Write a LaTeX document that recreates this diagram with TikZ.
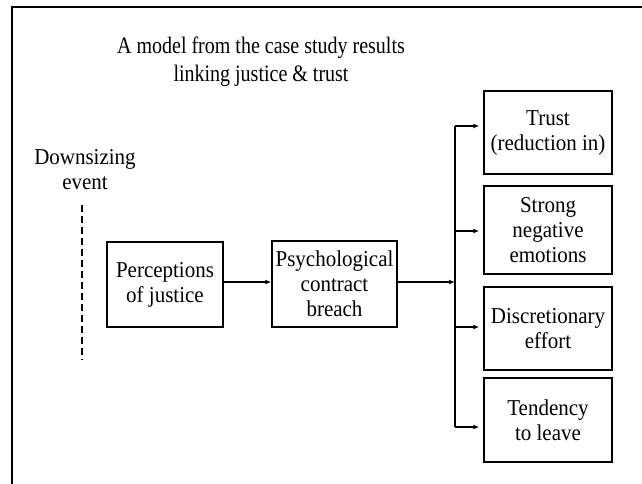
\documentclass[tikz,border=0pt]{standalone}
\usepackage{fontspec}
\usepackage{graphicx}
\setmainfont{Liberation Serif}
\usetikzlibrary{arrows.meta}
\newcommand\vs[1]{\scalebox{1}[1.08]{#1}}
\newcommand\vt[1]{\scalebox{1}[1.18]{#1}}
\begin{document}
\begin{tikzpicture}[x=1pt,y=-1pt,
  box/.style={draw,line width=1.5pt,inner sep=0pt,align=center,font=\fontsize{21}{25}\selectfont},
  conn/.style={line width=1.5pt,-{Latex[length=6pt,width=5pt]}},
  lbl/.style={align=center,font=\fontsize{21}{25}\selectfont}]
\useasboundingbox (0,0) rectangle (642,484);
\fill[white] (0,0) rectangle (642,484);
\draw[line width=2pt] (11.5,484) -- (11.5,7.5) -- (642,7.5);
\node[align=center,font=\fontsize{20}{28}\selectfont] (title) at (261,62) {\vt{A model from the case study results}\\\vt{linking justice \& trust}};
\node[lbl] (down) at (85,170) {\vs{Downsizing}\\\vs{event}};
\coordinate (dtop) at (82,205);
\coordinate (dbot) at (82,360);
\draw[line width=1.7pt,dash pattern=on 7pt off 4pt] (dtop) -- (dbot);
\node[box,minimum width=116pt,minimum height=85pt] (perc) at (165,284.5) {\vs{Perceptions}\\\vs{of justice}};
\node[box,minimum width=125pt,minimum height=86pt] (psych) at (334.5,284) {\vs{Psychological}\\\vs{contract}\\\vs{breach}};
\node[box,minimum width=128pt,minimum height=83pt] (trust) at (548,132.5) {\vs{Trust}\\\vs{(reduction in)}};
\node[box,minimum width=128pt,minimum height=88pt] (neg) at (548,230) {\vs{Strong}\\\vs{negative}\\\vs{emotions}};
\node[box,minimum width=128pt,minimum height=83pt] (disc) at (548,328.5) {\vs{Discretionary}\\\vs{effort}};
\node[box,minimum width=128pt,minimum height=84pt] (tend) at (548,420) {\vs{Tendency}\\\vs{to leave}};
\coordinate (bus) at (455,282);
\coordinate (bt) at (455,126);
\coordinate (bb) at (455,427);
\draw[conn] (perc.east |- 0,282) -- (psych.west |- 0,282);
\draw[conn] (psych.east |- bus) -- (bus);
\draw[line width=1.5pt] (bt) -- (bb);
\draw[conn,shorten >=4pt] (bt) -- (trust.west |- bt);
\draw[conn,shorten >=4pt] (455,231) -- (neg.west |- 0,231);
\draw[conn,shorten >=4pt] (455,327) -- (disc.west |- 0,327);
\draw[conn,shorten >=4pt] (bb) -- (tend.west |- bb);
\end{tikzpicture}
\end{document}
